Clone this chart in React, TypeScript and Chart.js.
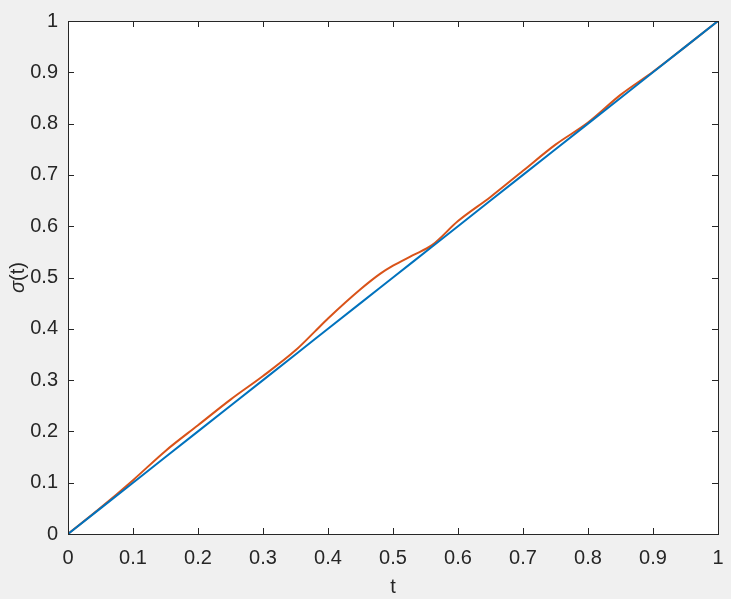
import React, { useEffect, useRef } from "react";
import { Chart, registerables } from "chart.js";

Chart.register(...registerables);

const tValues = [0, 0.05, 0.1, 0.15, 0.2, 0.25, 0.3, 0.35, 0.38, 0.4, 0.45, 0.48, 0.5, 0.53, 0.56, 0.6, 0.65, 0.7, 0.75, 0.8, 0.85, 0.9, 0.95, 1];
const linearSeries = [0, 0.05, 0.1, 0.15, 0.2, 0.25, 0.3, 0.35, 0.38, 0.4, 0.45, 0.48, 0.5, 0.53, 0.56, 0.6, 0.65, 0.7, 0.75, 0.8, 0.85, 0.9, 0.95, 1];
const sigmaSeries = [0, 0.051, 0.105, 0.162, 0.212, 0.262, 0.308, 0.358, 0.395, 0.42, 0.477, 0.507, 0.523, 0.543, 0.563, 0.61, 0.657, 0.708, 0.759, 0.802, 0.856, 0.901, 0.95, 1];
const xTicks = [0, 0.1, 0.2, 0.3, 0.4, 0.5, 0.6, 0.7, 0.8, 0.9, 1];
const yTicks = [0, 0.1, 0.2, 0.3, 0.4, 0.5, 0.6, 0.7, 0.8, 0.9, 1];

const AXIS_COLOR = "#262626";
const FONT = "Liberation Sans, Arial, Helvetica, sans-serif";
const FS = 20;

const bgPlugin = {
  id: "whiteArea",
  beforeDraw(chart: any) {
    const { ctx, chartArea } = chart;
    ctx.save();
    ctx.fillStyle = "#ffffff";
    ctx.fillRect(chartArea.left, chartArea.top, chartArea.right - chartArea.left, chartArea.bottom - chartArea.top);
    ctx.restore();
  },
};

const boxPlugin = {
  id: "matlabBox",
  afterDatasetsDraw(chart: any) {
    const { ctx, chartArea, scales } = chart;
    const { left, right, top, bottom } = chartArea;
    const len = 6;
    ctx.save();
    ctx.strokeStyle = AXIS_COLOR;
    ctx.lineWidth = 1;
    ctx.beginPath();
    for (const v of xTicks) {
      const x = Math.round(scales.x.getPixelForValue(v)) + 0.5;
      ctx.moveTo(x, bottom);
      ctx.lineTo(x, bottom - len);
      ctx.moveTo(x, top);
      ctx.lineTo(x, top + len);
    }
    for (const v of yTicks) {
      const y = Math.round(scales.y.getPixelForValue(v)) + 0.5;
      ctx.moveTo(left, y);
      ctx.lineTo(left + len, y);
      ctx.moveTo(right, y);
      ctx.lineTo(right - len, y);
    }
    ctx.stroke();
    ctx.strokeRect(Math.round(left) + 0.5, Math.round(top) + 0.5, Math.round(right - left), Math.round(bottom - top));
    // y-axis title with italic sigma
    ctx.fillStyle = AXIS_COLOR;
    ctx.translate(18, (top + bottom) / 2);
    ctx.rotate(-Math.PI / 2);
    ctx.textBaseline = "middle";
    ctx.textAlign = "left";
    ctx.font = `italic ${FS}px ${FONT}`;
    const w1 = ctx.measureText("σ").width;
    ctx.font = `${FS}px ${FONT}`;
    const w2 = ctx.measureText("(t)").width;
    const start = -(w1 + w2) / 2;
    ctx.font = `italic ${FS}px ${FONT}`;
    ctx.fillText("σ", start, 0);
    ctx.font = `${FS}px ${FONT}`;
    ctx.fillText("(t)", start + w1, 0);
    ctx.restore();
  },
};

export default function App() {
  const ref = useRef<HTMLCanvasElement>(null);
  useEffect(() => {
    const canvas = ref.current!;
    const chart = new Chart(canvas, {
      type: "line",
      data: {
        labels: tValues,
        datasets: [
          {
            data: tValues.map((t, i) => ({ x: t, y: linearSeries[i] })),
            borderColor: "#0072BD",
            borderWidth: 2,
            pointRadius: 0,
            tension: 0,
          },
          {
            data: tValues.map((t, i) => ({ x: t, y: sigmaSeries[i] })),
            borderColor: "#D95319",
            borderWidth: 2,
            pointRadius: 0,
            cubicInterpolationMode: "monotone",
          },
        ],
      },
      options: {
        animation: false,
        responsive: false,
        layout: { padding: { top: 21, right: 13, left: 0, bottom: 0 } },
        plugins: { legend: { display: false }, tooltip: { enabled: false } },
        scales: {
          x: {
            type: "linear",
            min: 0,
            max: 1,
            afterBuildTicks: (axis: any) => {
              axis.ticks = xTicks.map((v) => ({ value: v }));
            },
            afterFit: (axis: any) => {
              axis.height = 65;
              axis.paddingLeft = 0;
              axis.paddingRight = 0;
            },
            grid: { display: false, drawTicks: false },
            border: { display: false },
            ticks: {
              padding: 12,
              color: AXIS_COLOR,
              font: { family: FONT, size: FS },
              maxRotation: 0,
              autoSkip: false,
              callback: (v: any) => String(Number(Number(v).toFixed(1))),
            },
            title: {
              display: true,
              text: "t",
              color: AXIS_COLOR,
              font: { family: FONT, size: FS },
              padding: { top: 4, bottom: 0 },
            },
          },
          y: {
            type: "linear",
            min: 0,
            max: 1,
            afterBuildTicks: (axis: any) => {
              axis.ticks = yTicks.map((v) => ({ value: v }));
            },
            afterFit: (axis: any) => {
              axis.width = 68;
              axis.paddingTop = 0;
              axis.paddingBottom = 0;
            },
            grid: { display: false, drawTicks: false },
            border: { display: false },
            ticks: {
              padding: 10,
              color: AXIS_COLOR,
              font: { family: FONT, size: FS },
              autoSkip: false,
              callback: (v: any) => String(Number(Number(v).toFixed(1))),
            },
          },
        },
      },
      plugins: [bgPlugin, boxPlugin],
    } as any);
    return () => chart.destroy();
  }, []);
  return (
    <div style={{ position: "fixed", left: 0, top: 0, width: 731, height: 599, background: "#f0f0f0" }}>
      <canvas ref={ref} width={731} height={599} style={{ display: "block", width: 731, height: 599 }} />
    </div>
  );
}
